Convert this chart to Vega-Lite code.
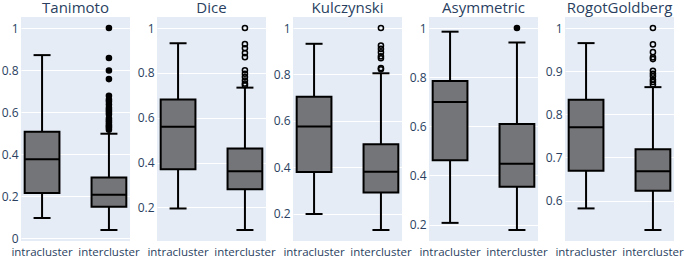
{
  "$schema": "https://vega.github.io/schema/vega-lite/v6.json",
  "background": "white",
  "padding": {"left": 1, "top": 1, "right": 0, "bottom": 0},
  "data": {"values": [
    {"metric": "Tanimoto", "group": "intracluster", "kind": "box", "lo": 0.096, "q1": 0.215, "med": 0.375, "q3": 0.506, "hi": 0.871},
    {"metric": "Tanimoto", "group": "intercluster", "kind": "box", "lo": 0.039, "q1": 0.150, "med": 0.207, "q3": 0.289, "hi": 0.497},
    {"metric": "Dice", "group": "intracluster", "kind": "box", "lo": 0.195, "q1": 0.370, "med": 0.559, "q3": 0.681, "hi": 0.932},
    {"metric": "Dice", "group": "intercluster", "kind": "box", "lo": 0.099, "q1": 0.281, "med": 0.361, "q3": 0.462, "hi": 0.734},
    {"metric": "Kulczynski", "group": "intracluster", "kind": "box", "lo": 0.199, "q1": 0.380, "med": 0.576, "q3": 0.704, "hi": 0.932},
    {"metric": "Kulczynski", "group": "intercluster", "kind": "box", "lo": 0.130, "q1": 0.291, "med": 0.381, "q3": 0.499, "hi": 0.805},
    {"metric": "Asymmetric", "group": "intracluster", "kind": "box", "lo": 0.207, "q1": 0.462, "med": 0.699, "q3": 0.784, "hi": 0.985},
    {"metric": "Asymmetric", "group": "intercluster", "kind": "box", "lo": 0.178, "q1": 0.354, "med": 0.448, "q3": 0.609, "hi": 0.941},
    {"metric": "RogotGoldberg", "group": "intracluster", "kind": "box", "lo": 0.582, "q1": 0.669, "med": 0.770, "q3": 0.834, "hi": 0.965},
    {"metric": "RogotGoldberg", "group": "intercluster", "kind": "box", "lo": 0.532, "q1": 0.623, "med": 0.668, "q3": 0.719, "hi": 0.863},
    {"metric": "Tanimoto", "group": "intercluster", "kind": "out", "v": 1.0},
    {"metric": "Tanimoto", "group": "intercluster", "kind": "out", "v": 0.857},
    {"metric": "Tanimoto", "group": "intercluster", "kind": "out", "v": 0.798},
    {"metric": "Tanimoto", "group": "intercluster", "kind": "out", "v": 0.757},
    {"metric": "Tanimoto", "group": "intercluster", "kind": "out", "v": 0.678},
    {"metric": "Tanimoto", "group": "intercluster", "kind": "out", "v": 0.66},
    {"metric": "Tanimoto", "group": "intercluster", "kind": "out", "v": 0.65},
    {"metric": "Tanimoto", "group": "intercluster", "kind": "out", "v": 0.636},
    {"metric": "Tanimoto", "group": "intercluster", "kind": "out", "v": 0.62},
    {"metric": "Tanimoto", "group": "intercluster", "kind": "out", "v": 0.61},
    {"metric": "Tanimoto", "group": "intercluster", "kind": "out", "v": 0.6},
    {"metric": "Tanimoto", "group": "intercluster", "kind": "out", "v": 0.59},
    {"metric": "Tanimoto", "group": "intercluster", "kind": "out", "v": 0.57},
    {"metric": "Tanimoto", "group": "intercluster", "kind": "out", "v": 0.56},
    {"metric": "Tanimoto", "group": "intercluster", "kind": "out", "v": 0.551},
    {"metric": "Tanimoto", "group": "intercluster", "kind": "out", "v": 0.54},
    {"metric": "Tanimoto", "group": "intercluster", "kind": "out", "v": 0.532},
    {"metric": "Tanimoto", "group": "intercluster", "kind": "out", "v": 0.525},
    {"metric": "Tanimoto", "group": "intercluster", "kind": "out", "v": 0.516},
    {"metric": "Dice", "group": "intercluster", "kind": "out", "v": 1.0},
    {"metric": "Dice", "group": "intercluster", "kind": "out", "v": 0.928},
    {"metric": "Dice", "group": "intercluster", "kind": "out", "v": 0.91},
    {"metric": "Dice", "group": "intercluster", "kind": "out", "v": 0.888},
    {"metric": "Dice", "group": "intercluster", "kind": "out", "v": 0.87},
    {"metric": "Dice", "group": "intercluster", "kind": "out", "v": 0.811},
    {"metric": "Dice", "group": "intercluster", "kind": "out", "v": 0.796},
    {"metric": "Dice", "group": "intercluster", "kind": "out", "v": 0.781},
    {"metric": "Dice", "group": "intercluster", "kind": "out", "v": 0.766},
    {"metric": "Dice", "group": "intercluster", "kind": "out", "v": 0.752},
    {"metric": "Dice", "group": "intercluster", "kind": "out", "v": 0.745},
    {"metric": "Kulczynski", "group": "intercluster", "kind": "out", "v": 1.0},
    {"metric": "Kulczynski", "group": "intercluster", "kind": "out", "v": 0.924},
    {"metric": "Kulczynski", "group": "intercluster", "kind": "out", "v": 0.91},
    {"metric": "Kulczynski", "group": "intercluster", "kind": "out", "v": 0.895},
    {"metric": "Kulczynski", "group": "intercluster", "kind": "out", "v": 0.878},
    {"metric": "Kulczynski", "group": "intercluster", "kind": "out", "v": 0.87},
    {"metric": "Kulczynski", "group": "intercluster", "kind": "out", "v": 0.827},
    {"metric": "Kulczynski", "group": "intercluster", "kind": "out", "v": 0.822},
    {"metric": "Asymmetric", "group": "intercluster", "kind": "out", "v": 1.0},
    {"metric": "RogotGoldberg", "group": "intercluster", "kind": "out", "v": 1.0},
    {"metric": "RogotGoldberg", "group": "intercluster", "kind": "out", "v": 0.962},
    {"metric": "RogotGoldberg", "group": "intercluster", "kind": "out", "v": 0.944},
    {"metric": "RogotGoldberg", "group": "intercluster", "kind": "out", "v": 0.932},
    {"metric": "RogotGoldberg", "group": "intercluster", "kind": "out", "v": 0.928},
    {"metric": "RogotGoldberg", "group": "intercluster", "kind": "out", "v": 0.901},
    {"metric": "RogotGoldberg", "group": "intercluster", "kind": "out", "v": 0.894},
    {"metric": "RogotGoldberg", "group": "intercluster", "kind": "out", "v": 0.888},
    {"metric": "RogotGoldberg", "group": "intercluster", "kind": "out", "v": 0.88},
    {"metric": "RogotGoldberg", "group": "intercluster", "kind": "out", "v": 0.875},
    {"metric": "RogotGoldberg", "group": "intercluster", "kind": "out", "v": 0.869}
  ]},
  "facet": {
    "column": {
      "field": "metric", "type": "nominal", "title": null,
      "sort": ["Tanimoto", "Dice", "Kulczynski", "Asymmetric", "RogotGoldberg"],
      "header": {"labelFontSize": 15, "labelColor": "#2a3f5f", "labelFont": "Open Sans", "labelPadding": 1, "labelBaseline": "top"}
    }
  },
  "spacing": 7,
  "resolve": {"scale": {"y": "independent"}},
  "spec": {
    "width": 109,
    "height": 224,
    "encoding": {
      "x": {
        "field": "group", "type": "nominal", "title": null,
        "sort": ["intracluster", "intercluster"],
        "scale": {"paddingInner": 0.48, "paddingOuter": 0.055},
        "axis": {"labelAngle": 0, "ticks": false, "domain": false, "grid": false, "labelFontSize": 11.5, "labelColor": "#2a3f5f", "labelFont": "Open Sans", "labelPadding": 1, "labelOverlap": false, "labelBound": false}
      }
    },
    "layer": [
      {
        "transform": [{"filter": "datum.kind === 'box'"}],
        "mark": {"type": "rule", "stroke": "black", "strokeWidth": 2},
        "encoding": {
          "y": {"field": "lo", "type": "quantitative", "title": null,
            "scale": {"zero": false, "nice": false, "padding": 11},
            "axis": {"format": "~g", "domain": false, "ticks": false, "gridColor": "white", "gridWidth": 1, "labelFontSize": 12, "labelColor": "#2a3f5f", "labelFont": "Open Sans", "labelPadding": 3, "minExtent": 20, "maxExtent": 20}},
          "y2": {"field": "hi"}
        }
      },
      {
        "transform": [{"filter": "datum.kind === 'box'"}],
        "mark": {"type": "bar", "fill": "#747578", "stroke": "black", "strokeWidth": 2},
        "encoding": {
          "y": {"field": "q1", "type": "quantitative"},
          "y2": {"field": "q3"}
        }
      },
      {
        "transform": [{"filter": "datum.kind === 'box'"}],
        "mark": {"type": "tick", "color": "black", "size": 34, "thickness": 2, "opacity": 1},
        "encoding": {"y": {"field": "med", "type": "quantitative"}}
      },
      {
        "transform": [{"filter": "datum.kind === 'box'"}],
        "mark": {"type": "tick", "color": "black", "size": 17, "thickness": 2, "opacity": 1},
        "encoding": {"y": {"field": "lo", "type": "quantitative"}}
      },
      {
        "transform": [{"filter": "datum.kind === 'box'"}],
        "mark": {"type": "tick", "color": "black", "size": 17, "thickness": 2, "opacity": 1},
        "encoding": {"y": {"field": "hi", "type": "quantitative"}}
      },
      {
        "transform": [{"filter": "datum.kind === 'out'"}],
        "mark": {"type": "point", "shape": "circle", "size": 26, "stroke": "black", "strokeWidth": 1.5, "opacity": 1},
        "encoding": {
          "y": {"field": "v", "type": "quantitative"},
          "fill": {"condition": {"test": "datum.metric === 'Tanimoto' || datum.metric === 'Asymmetric'", "value": "black"}, "value": "transparent"}
        }
      }
    ]
  },
  "config": {
    "view": {"fill": "#E5ECF6", "stroke": null},
    "font": "Open Sans"
  }
}
